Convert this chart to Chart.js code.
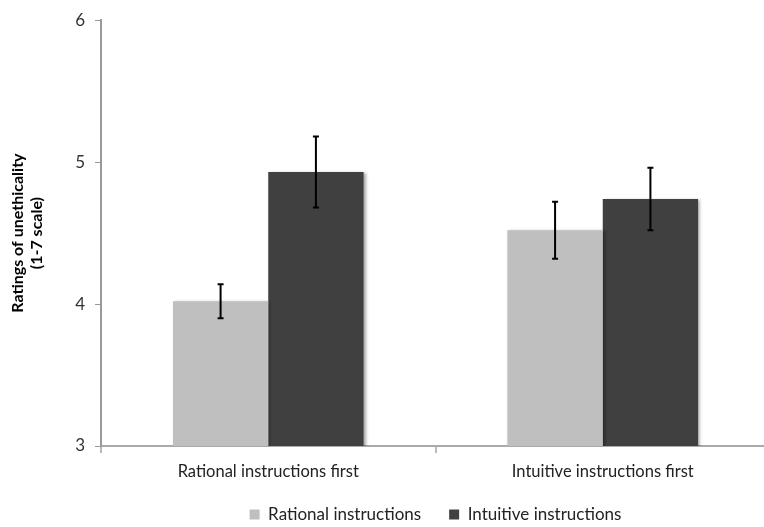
<!DOCTYPE html>
<html>
<head>
<meta charset="utf-8">
<script src="https://cdn.jsdelivr.net/npm/chart.js@4.4.1/dist/chart.umd.min.js"></script>
<style>
html,body{margin:0;padding:0;background:#fff;overflow:hidden;}
canvas{display:block;}
</style>
</head>
<body>
<canvas id="chartRatings" width="770" height="527"></canvas>
<script>
const categories = ["Rational instructions first","Intuitive instructions first"];
const seriesNames = ["Rational instructions","Intuitive instructions"];
const rationalValues = [4.02, 4.52];
const intuitiveValues = [4.93, 4.74];
const rationalErrors = [0.12, 0.20];
const intuitiveErrors = [0.25, 0.22];
const yTicks = [3, 4, 5, 6];

const errorList = [rationalErrors, intuitiveErrors];

// drop shadow on bars like the original
const barShadow = {
id:"barShadow",
beforeDatasetDraw(chart){
const ctx = chart.ctx;
ctx.save();
ctx.shadowColor = "rgba(0,0,0,0.35)";
ctx.shadowBlur = 3;
ctx.shadowOffsetX = 2;
ctx.shadowOffsetY = 1;
},
afterDatasetDraw(chart){
chart.ctx.restore();
}
};

// error bars from the arrays above
const errorBars = {
id:"errorBars",
afterDatasetsDraw(chart){
const ctx = chart.ctx;
const y = chart.scales.y;
ctx.save();
ctx.strokeStyle = "#000";
ctx.lineWidth = 2;
chart.data.datasets.forEach((ds, di) => {
const meta = chart.getDatasetMeta(di);
meta.data.forEach((bar, i) => {
const v = ds.data[i];
const e = errorList[di][i];
const top = y.getPixelForValue(v + e);
const bottom = y.getPixelForValue(v - e);
ctx.beginPath();
ctx.moveTo(bar.x, top);
ctx.lineTo(bar.x, bottom);
ctx.moveTo(bar.x - 3, top);
ctx.lineTo(bar.x + 3, top);
ctx.moveTo(bar.x - 3, bottom);
ctx.lineTo(bar.x + 3, bottom);
ctx.stroke();
});
});
ctx.restore();
}
};

new Chart(
document.getElementById("chartRatings"),
{
type:"bar",
data:{
labels:categories,
datasets:[{
label:seriesNames[0],
data:rationalValues,
backgroundColor:"#bfbfbf"
},{
label:seriesNames[1],
data:intuitiveValues,
backgroundColor:"#404040"
}]
},
options:{
responsive:false,
animation:false,
categoryPercentage:0.57,
barPercentage:1.0,
layout:{
padding:{top:18,right:0,left:0,bottom:-6}
},
plugins:{
legend:{
position:"bottom",
fullSize:false,
labels:{
boxWidth:10,
boxHeight:10,
padding:28,
color:"#222",
font:{family:"Lato",size:17}
}
},
tooltip:{enabled:false}
},
scales:{
x:{
grid:{
offset:true,
drawOnChartArea:false,
tickLength:7,
color:"#bbb",
lineWidth:2
},
border:{color:"#aaa",width:2},
ticks:{
padding:9,
color:"#222",
font:{family:"Lato",size:16.5}
},
afterFit(scale){ scale.height = 32; }
},
y:{
min:3,
max:6,
afterBuildTicks(scale){
scale.ticks = yTicks.map(v => ({value:v}));
},
grid:{
drawOnChartArea:false,
tickLength:6,
color:"#999",
lineWidth:1
},
border:{color:"#999",width:2},
ticks:{
padding:10,
color:"#333",
font:{family:"Lato",size:17}
},
title:{
display:true,
text:["Ratings of unethicality","(1-7 scale)"],
color:"#000",
font:{family:"Lato",size:16,weight:"bold"},
padding:{top:8,bottom:0}
},
afterFit(scale){ scale.width = 101; }
}
}
},
plugins:[barShadow, errorBars]
});
</script>
</body>
</html>
